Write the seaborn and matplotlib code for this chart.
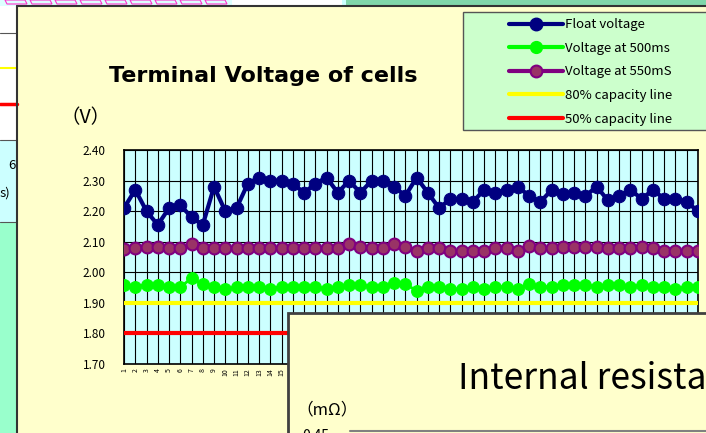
import numpy as np
import pandas as pd
import matplotlib
matplotlib.use("Agg")
import matplotlib.pyplot as plt
import seaborn as sns
from matplotlib.patches import Rectangle, Polygon
from matplotlib.lines import Line2D

# ---------------- data ----------------
cells = list(range(1, 53))
float_voltage = [2.21, 2.27, 2.20, 2.155, 2.21, 2.22, 2.18, 2.155, 2.28, 2.20,
                 2.21, 2.29, 2.31, 2.30, 2.30, 2.29, 2.26, 2.29, 2.31, 2.26,
                 2.30, 2.26, 2.30, 2.30, 2.28, 2.25, 2.31, 2.26, 2.21, 2.24,
                 2.24, 2.23, 2.27, 2.26, 2.27, 2.28, 2.25, 2.23, 2.27, 2.255,
                 2.26, 2.25, 2.28, 2.235, 2.25, 2.27, 2.24, 2.27, 2.24, 2.24,
                 2.23, 2.20]
voltage_500ms = [1.959, 1.953, 1.959, 1.959, 1.953, 1.951, 1.981, 1.961, 1.953, 1.946,
                 1.951, 1.953, 1.953, 1.946, 1.953, 1.953, 1.953, 1.953, 1.946, 1.953,
                 1.959, 1.959, 1.953, 1.953, 1.964, 1.961, 1.940, 1.953, 1.953, 1.946,
                 1.946, 1.953, 1.946, 1.953, 1.953, 1.946, 1.961, 1.953, 1.953, 1.959,
                 1.959, 1.959, 1.953, 1.959, 1.959, 1.953, 1.959, 1.953, 1.953, 1.946,
                 1.953, 1.953]
voltage_550ms = [2.075, 2.080, 2.084, 2.084, 2.080, 2.080, 2.092, 2.080, 2.080, 2.080,
                 2.080, 2.080, 2.080, 2.080, 2.080, 2.080, 2.080, 2.080, 2.080, 2.080,
                 2.092, 2.084, 2.080, 2.080, 2.092, 2.084, 2.071, 2.080, 2.080, 2.071,
                 2.071, 2.071, 2.071, 2.080, 2.080, 2.071, 2.086, 2.080, 2.080, 2.084,
                 2.084, 2.084, 2.084, 2.080, 2.080, 2.080, 2.084, 2.080, 2.071, 2.071,
                 2.071, 2.071]
capacity_80 = 1.90
capacity_50 = 1.80
y_ticks = [1.70, 1.80, 1.90, 2.00, 2.10, 2.20, 2.30, 2.40]
visible_x_labels = 15   # labels 16..52 are hidden under the overlapping chart
series_labels = ["Float voltage", "Voltage at 500ms", "Voltage at 550mS",
                 "80% capacity line", "50% capacity line"]
title = "Terminal Voltage of cells"

# ---------------- figure ----------------
sns.set_theme(style="white")
plt.rcParams["font.family"] = ["Noto Sans CJK JP", "DejaVu Sans"]
plt.rcParams["text.color"] = "black"
plt.rcParams["xtick.color"] = "black"
plt.rcParams["ytick.color"] = "black"

W, H = 706, 433
fig = plt.figure(figsize=(W / 100, H / 100), dpi=100)
fig.patch.set_facecolor("#FFFFCC")


def rect(x0, y0, x1, y1, **kw):
    r = Rectangle((x0 / W, 1 - y1 / H), (x1 - x0) / W, (y1 - y0) / H,
                  transform=fig.transFigure, **kw)
    fig.add_artist(r)
    return r


def hline(x0, x1, y, **kw):
    fig.add_artist(Line2D([x0 / W, x1 / W], [1 - y / H, 1 - y / H],
                          transform=fig.transFigure, **kw))


def vline(x, y0, y1, **kw):
    fig.add_artist(Line2D([x / W, x / W], [1 - y0 / H, 1 - y1 / H],
                          transform=fig.transFigure, **kw))


# spreadsheet surroundings (left strip and top strip)
rect(0, 0, 17, 140, facecolor="white", edgecolor="none", zorder=1)
rect(0, 140, 17, 222, facecolor="#CCFFFF", edgecolor="none", zorder=1)
rect(0, 222, 17, H, facecolor="#99FFCC", edgecolor="none", zorder=1)
for yy in (33, 140, 222):
    hline(0, 17, yy, color="#555555", lw=0.8, zorder=2)
hline(0, 17, 68, color="#FFFF00", lw=1.5, zorder=2)
hline(0, 17, 104, color="#FF0000", lw=2.5, zorder=2)
fig.text(16 / W, 1 - 166 / H, "6", fontsize=9.5, ha="right", va="center", zorder=3)
fig.text(0, 1 - 193 / H, "s)", fontsize=9.5, ha="left", va="center", zorder=3)

rect(0, 0, 232, 6, facecolor="#DDFFFF", edgecolor="none", zorder=1)
rect(232, 0, 342, 6, facecolor="white", edgecolor="none", zorder=1)
rect(342, 0, 346, 6, facecolor="#CCFFFF", edgecolor="none", zorder=1)
rect(346, 0, W, 6, facecolor="#80D6AA", edgecolor="none", zorder=1)
for i in range(9):
    x0 = 5 + i * 25
    poly = Polygon([((x0) / W, 1 - 0 / H), ((x0 + 20) / W, 1 - 0 / H),
                    ((x0 + 22) / W, 1 - 4 / H), ((x0 + 2) / W, 1 - 4 / H)],
                   closed=True, transform=fig.transFigure, facecolor="none",
                   edgecolor="#FF33CC", lw=0.8, zorder=2)
    fig.add_artist(poly)

# chart object border
vline(17, 6, H, color="#333333", lw=1.5, zorder=4)
hline(17, W, 6, color="#333333", lw=1.5, zorder=4)

# ---------------- main axes ----------------
ax = fig.add_axes([124 / W, 1 - 364 / H, 574 / W, 214 / H])
ax.set_facecolor("#CCFFFF")

sns.lineplot(x=cells, y=[capacity_80] * len(cells), ax=ax, color="#FFFF00",
             linewidth=3, legend=False, zorder=3)
sns.lineplot(x=cells, y=[capacity_50] * len(cells), ax=ax, color="#FF0000",
             linewidth=3, legend=False, zorder=3)
sns.lineplot(x=cells, y=voltage_500ms, ax=ax, color="#00FF00", linewidth=2,
             marker="o", markersize=8.5, markeredgecolor="#00FF00",
             markerfacecolor="#00FF00", legend=False, zorder=4)
sns.lineplot(x=cells, y=voltage_550ms, ax=ax, color="#800080", linewidth=2,
             marker="o", markersize=8.5, markeredgecolor="#800080",
             markeredgewidth=1.5, markerfacecolor="#993366", legend=False, zorder=4)
sns.lineplot(x=cells, y=float_voltage, ax=ax, color="#000080", linewidth=3,
             marker="o", markersize=9, markeredgecolor="#000080",
             markerfacecolor="#000080", legend=False, zorder=5)

ax.set_xlim(cells[0], cells[-1])
ax.set_ylim(y_ticks[0], y_ticks[-1])
ax.set_yticks(y_ticks)
ax.set_yticklabels([f"{v:.2f}" for v in y_ticks], fontsize=8.5)
ax.set_xticks(cells)
ax.set_xticklabels([str(c) if c <= visible_x_labels else "" for c in cells],
                   fontsize=5, rotation=90)
ax.tick_params(axis="y", length=0, pad=13)
ax.tick_params(axis="x", length=0, pad=3)
ax.grid(True, color="black", linewidth=0.8)
ax.set_axisbelow(True)
for s in ax.spines.values():
    s.set_color("black")
    s.set_linewidth(1.2)
ax.set_xlabel("")
ax.set_ylabel("")

# title and unit
fig.text(263 / W, 1 - 76 / H, title, fontsize=16, fontweight="bold",
         ha="center", va="center", family=["DejaVu Sans"])
fig.text(86 / W, 1 - 118 / H, "（V）", fontsize=14, ha="center", va="center")

# ---------------- legend ----------------
rect(463, 12, W + 5, 130, facecolor="#CCFFCC", edgecolor="#555555", lw=1, zorder=6)
handles = [
    Line2D([], [], color="#000080", lw=3, marker="o", markersize=9,
           markerfacecolor="#000080", markeredgecolor="#000080"),
    Line2D([], [], color="#00FF00", lw=3, marker="o", markersize=8.5,
           markerfacecolor="#00FF00", markeredgecolor="#00FF00"),
    Line2D([], [], color="#800080", lw=3, marker="o", markersize=8.5,
           markerfacecolor="#993366", markeredgecolor="#800080", markeredgewidth=1.5),
    Line2D([], [], color="#FFFF00", lw=3),
    Line2D([], [], color="#FF0000", lw=3),
]
leg = fig.legend(handles, series_labels, loc="upper left",
                 bbox_to_anchor=(504 / W, 1 - 13 / H), frameon=False,
                 fontsize=9.5, handlelength=4.05, handletextpad=0.2,
                 labelspacing=0.8, borderaxespad=0)
for t in leg.get_texts():
    t.set_color("black")
leg.set_zorder(7)

# ---------------- overlapping second chart ----------------
rect(288, 313, W + 10, H + 10, facecolor="#FFFFCC", edgecolor="#404040",
     lw=2, zorder=8)
fig.text(458 / W, 1 - 379 / H, "Internal resista", fontsize=25.5,
         ha="left", va="center", zorder=9)
fig.text(296 / W, 1 - 410 / H, "（mΩ）", fontsize=12, ha="left", va="center",
         zorder=9)
fig.text(302 / W, 1 - 436 / H, "0.45", fontsize=10, ha="left", va="center",
         zorder=9)
hline(350, W, 431, color="#808080", lw=1.5, zorder=9)

fig.savefig("out.png", dpi=100, facecolor=fig.get_facecolor())
